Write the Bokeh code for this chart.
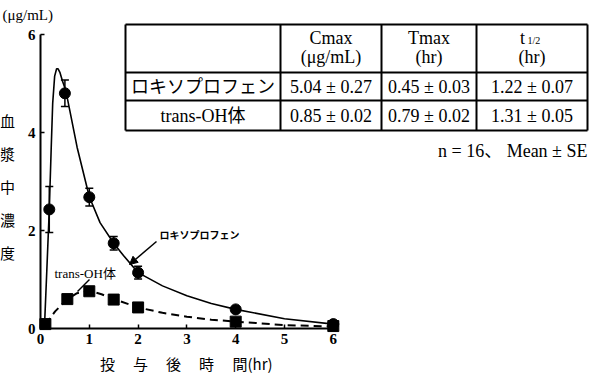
from bokeh.plotting import figure
from bokeh.models import (Range1d, FixedTicker, Label, Whisker, TeeHead, Arrow,
                          NormalHead, ColumnDataSource, LinearAxis)
from bokeh.embed import file_html
from bokeh.resources import INLINE

# ---------------- data ----------------
lox_t = [0.18, 0.5, 1.0, 1.5, 2.0, 4.0, 6.0]
lox_c = [2.43, 4.8, 2.68, 1.74, 1.14, 0.39, 0.09]
lox_se = [0.47, 0.27, 0.18, 0.14, 0.13, 0.0, 0.0]

oh_t = [0.1, 0.55, 1.0, 1.5, 2.0, 4.0, 6.0]
oh_c = [0.09, 0.6, 0.76, 0.59, 0.43, 0.14, 0.05]

lox_fit_t = [0.08, 0.13, 0.18, 0.22, 0.25, 0.29, 0.33, 0.36, 0.4, 0.45, 0.52, 0.6, 0.75,
             1.0, 1.22, 1.5, 1.7, 2.0, 2.5, 3.0, 3.5, 4.0, 5.0, 6.0]
lox_fit_c = [0.0, 1.2, 2.43, 3.7, 4.6, 5.15, 5.3, 5.3, 5.22, 5.05, 4.85, 4.45, 3.7,
             2.69, 2.16, 1.74, 1.49, 1.14, 0.87, 0.67, 0.51, 0.39, 0.2, 0.09]

oh_fit_t = [0.1, 0.3, 0.55, 0.75, 1.0, 1.25, 1.5, 2.0, 2.5, 3.0, 3.5, 4.0, 5.0, 6.0]
oh_fit_c = [0.08, 0.35, 0.6, 0.72, 0.77, 0.7, 0.6, 0.43, 0.32, 0.24, 0.18, 0.14, 0.07, 0.04]

x_ticks = [0, 1, 2, 3, 4, 5, 6]
y_ticks = [0, 2, 4, 6]

table_head1 = ["", "Cmax", "Tmax", "t"]
table_head2 = ["", "(μg/mL)", "(hr)", "(hr)"]
table_rows = [["ロキソプロフェン", "5.04 ± 0.27", "0.45 ± 0.03", "1.22 ± 0.07"],
              ["trans-OH体", "0.85 ± 0.02", "0.79 ± 0.02", "1.31 ± 0.05"]]
table_note = "n = 16、 Mean ± SE"
y_unit = "(μg/mL)"
y_label_chars = ["血", "漿", "中", "濃", "度"]
x_label_chars = ["投", "与", "後", "時", "間(hr)"]

# ---------------- layout helpers (page pixels -> data) ----------------
UX, UY = 48.8, 49.0          # pixels per unit
X0, Y0 = 48.0, 336.0         # page pixel of the origin
def dx(px):
    return (px - X0) / UX
def dy(py):
    return (Y0 - py) / UY

SERIF = "'Liberation Serif', 'Noto Sans CJK JP', serif"
CJK = "'Noto Sans CJK JP', sans-serif"

# figure sits at page (8, 8) and spans to (598, 385)
p = figure(width=590, height=377,
           x_range=Range1d(dx(8), dx(598)), y_range=Range1d(dy(385), dy(8)),
           output_backend="svg", toolbar_location=None,
           x_axis_location=None, y_axis_location=None, min_border=0)
p.outline_line_color = None
p.grid.visible = False
p.background_fill_color = "white"

xaxis = LinearAxis(fixed_location=0)
yaxis = LinearAxis(fixed_location=0)
p.add_layout(xaxis, "below")
p.add_layout(yaxis, "left")
for ax, ticks in ((xaxis, x_ticks), (yaxis, y_ticks)):
    ax.ticker = FixedTicker(ticks=ticks)
    ax.bounds = (0, 6)
    ax.axis_line_width = 2
    ax.axis_line_color = "black"
    ax.major_tick_in = 4
    ax.major_tick_out = 0
    ax.major_tick_line_width = 1.5
    ax.minor_tick_line_color = None
    ax.major_label_text_font = SERIF
    ax.major_label_text_font_size = "15px"
    ax.major_label_text_font_style = "bold"
    ax.major_label_text_color = "black"
    ax.major_label_standoff = 5

# fitted curves
p.line(lox_fit_t, lox_fit_c, line_color="black", line_width=1.6)
p.line(oh_fit_t, oh_fit_c, line_color="black", line_width=2, line_dash="8 5")

# error bars
src = ColumnDataSource(dict(
    t=[t for t, s in zip(lox_t, lox_se) if s > 0],
    up=[c + s for c, s in zip(lox_c, lox_se) if s > 0],
    lo=[c - s for c, s in zip(lox_c, lox_se) if s > 0]))
p.add_layout(Whisker(source=src, base="t", upper="up", lower="lo",
                     line_width=1.5, line_color="black",
                     upper_head=TeeHead(size=8, line_width=1.5),
                     lower_head=TeeHead(size=8, line_width=1.5)))

# markers
p.scatter(lox_t, lox_c, marker="circle", size=11, color="black")
p.scatter(oh_t, oh_c, marker="square", size=11, color="black")

def lab(text, px, py, size, font=SERIF, align="center", style="normal"):
    p.add_layout(Label(x=dx(px), y=dy(py), text=text, text_font=font,
                       text_font_size=f"{size}px", text_align=align,
                       text_baseline="middle", text_color="black",
                       text_font_style=style))

# in-plot annotations
lab("ロキソプロフェン", 167, 242, 10, font=CJK, align="left", style="bold")
p.add_layout(Arrow(x_start=dx(164), y_start=dy(249), x_end=dx(137), y_end=dy(272),
                   line_width=1.5, line_color="black",
                   end=NormalHead(size=8, fill_color="black", line_color="black")))
lab("trans-OH体", 62, 281, 13, align="left")
p.segment(x0=[dx(97)], y0=[dy(287)], x1=[dx(85)], y1=[dy(299)],
          line_color="black", line_width=1.5)

# axis titles
lab(y_unit, 10, 22, 15, align="left")
for i, ch in enumerate(y_label_chars):
    lab(ch, 15, 128 + 33 * i, 15, font=CJK)
for i, ch in enumerate(x_label_chars):
    if i == 4:
        lab(ch, 240, 371, 15, font=CJK, align="left")
    else:
        lab(ch, 115 + 33 * i, 371, 15, font=CJK)

# table
TX = [133, 288, 389, 484, 595]
TY = [32, 80, 108, 138]
xs, ys = [], []
for y in TY:
    xs.append([dx(TX[0]), dx(TX[-1])]); ys.append([dy(y), dy(y)])
for x in TX:
    xs.append([dx(x), dx(x)]); ys.append([dy(TY[0]), dy(TY[-1])])
p.multi_line(xs, ys, line_color="black", line_width=2)

centers = [(TX[i] + TX[i + 1]) / 2 for i in range(4)]
for i in range(1, 4):
    if i == 3:
        lab(table_head1[i], 530, 45, 18)
        lab("1/2", 535, 48, 10, align="left")
    else:
        lab(table_head1[i], centers[i], 45, 18)
    lab(table_head2[i], centers[i], 64, 18)
for r, row in enumerate(table_rows):
    yy = 94 + 29 * r
    for i, txt in enumerate(row):
        lab(txt, centers[i], yy, 18)
lab(table_note, 595, 158, 18, align="right")

open("out.html", "w").write(file_html(p, INLINE))
